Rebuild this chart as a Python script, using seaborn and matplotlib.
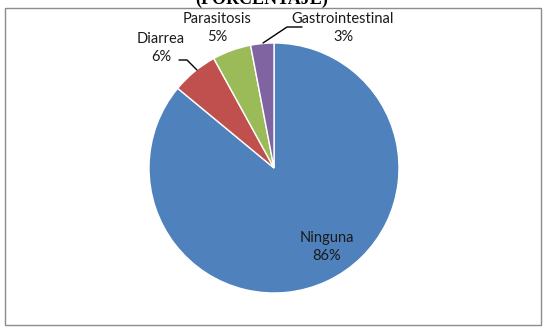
import matplotlib
matplotlib.use("Agg")
import matplotlib.pyplot as plt
import seaborn as sns

# Datos del grafico
categorias = ["Ninguna", "Diarrea", "Parasitosis", "Gastrointestinal"]
porcentajes = [86, 6, 5, 3]
colores = ["#4F81BD", "#C0504D", "#9BBB59", "#8064A2"]

sns.set_theme(style="white")
plt.rcParams["font.family"] = ["Lato", "DejaVu Sans"]

W, H = 546, 330
fig = plt.figure(figsize=(W / 100, H / 100), dpi=100)
ax = fig.add_axes([0, 0, 1, 1])

# Pastel: empieza arriba y gira en sentido horario
wedges, _ = ax.pie(porcentajes, colors=colores, startangle=90, counterclock=False,
                   center=(274, H - 168), radius=125, frame=True,
                   wedgeprops={"edgecolor": "white", "linewidth": 1})
ax.set_xlim(0, W)
ax.set_ylim(0, H)
ax.set_aspect("equal")
ax.axis("off")

# Marco del grafico
ax.add_patch(plt.Rectangle((5, H - 325), 536, 317, fill=False,
                           edgecolor="#8c8c8c", linewidth=1, clip_on=False))

# Titulo (cortado arriba, como en el original)
ax.text(262, H - 4, "(PORCENTAJE)", ha="center", va="baseline",
        fontsize=13, fontweight="bold", family="Liberation Serif", color="black", clip_on=False)

# Etiquetas
etiqueta_pos = {
    "Ninguna": (327, 247),
    "Diarrea": (161, 48),
    "Parasitosis": (217, 28),
    "Gastrointestinal": (343, 28),
}
for cat, val in zip(categorias, porcentajes):
    x, y = etiqueta_pos[cat]
    ax.text(x, H - y, f"{cat}\n{val}%", ha="center", va="center",
            fontsize=10.5, color="#1a1a1a", linespacing=1.45)

# Lineas guia
ax.plot([179, 187, 197], [H - 60, H - 60, H - 70], color="black", linewidth=1)
ax.plot([263, 287, 302], [H - 43, H - 27, H - 27], color="black", linewidth=1)

fig.savefig("out.png", dpi=100)
